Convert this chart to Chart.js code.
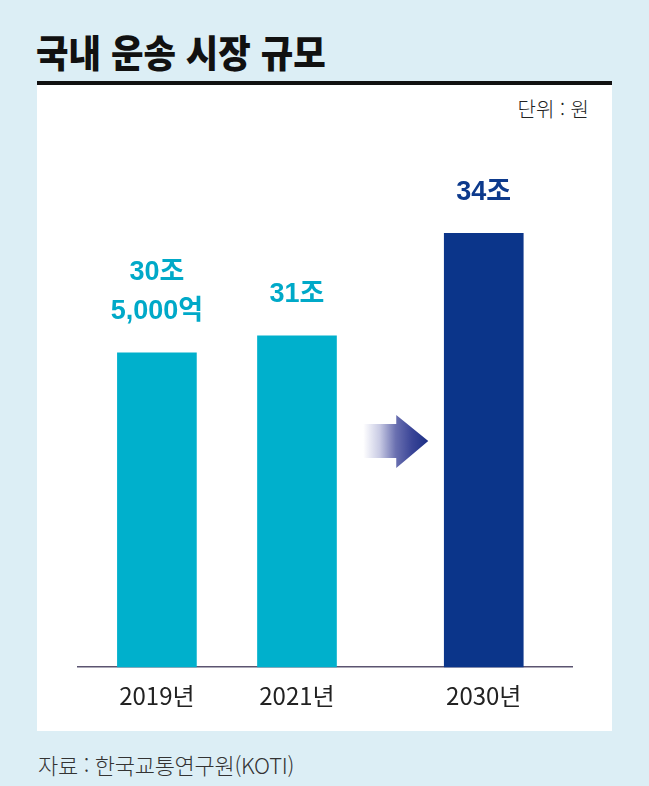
<!DOCTYPE html>
<html lang="ko">
<head>
<meta charset="utf-8">
<script src="https://cdn.jsdelivr.net/npm/chart.js@4"></script>
<style>
  html, body { margin: 0; padding: 0; }
  body { width: 649px; height: 786px; background: #dceef5; position: relative; overflow: hidden;
         font-family: "Noto Sans CJK KR", "Noto Sans", sans-serif; }
  #title { position: absolute; left: 36px; top: 32px; font-size: 38px; font-weight: 900; color: #111;
           line-height: 1; white-space: nowrap; transform: scaleX(0.93); transform-origin: left top; }
  #rule { position: absolute; left: 37px; top: 81px; width: 575px; height: 4px; background: #111; }
  #panel { position: absolute; left: 37px; top: 85px; width: 575px; height: 646px; background: #fff; }
  #unit { position: absolute; right: 60px; top: 99px; font-size: 20px; color: #222; line-height: 1; font-weight: 300; }
  #source { position: absolute; left: 38px; top: 753px; font-size: 22px; color: #333; line-height: 1;
            font-weight: 300; white-space: nowrap; letter-spacing: -0.3px; }
  #wrap { position: absolute; left: 37px; top: 84px; width: 575px; height: 647px; }
</style>
</head>
<body>
<div id="title">국내 운송 시장 규모</div>
<div id="rule"></div>
<div id="panel"></div>
<div id="unit">단위 : 원</div>
<div id="wrap"><canvas id="c" width="575" height="647"></canvas></div>
<div id="source">자료 : 한국교통연구원(KOTI)</div>
<script>
// ---- data ----
const categories = ['2019년', '2021년', '2030년'];
const values = [30.5, 31, 34];               // 조 원
const valueLabels = [['30조', '5,000억'], ['31조'], ['34조']];
const barColors = ['#00b0cc', '#00b0cc', '#0b358a'];
const labelColors = ['#00a9c8', '#00a9c8', '#0d3a8c'];

// layout: horizontal slot of each category (2030 set apart by the arrow)
const slotIndex = [0, 3, 7];

const points = values.map((v, i) => ({ x: slotIndex[i], y: v }));

const valueLabelPlugin = {
  id: 'valueLabels',
  afterDatasetsDraw(chart) {
    const ctx = chart.ctx;
    const meta = chart.getDatasetMeta(0);
    ctx.save();
    ctx.textAlign = 'center';
    ctx.textBaseline = 'middle';
    ctx.font = 'bold 27px "Liberation Sans", "Noto Sans CJK KR", sans-serif';
    meta.data.forEach((bar, i) => {
      const lines = valueLabels[i];
      ctx.fillStyle = labelColors[i];
      const lastY = bar.y - 41;
      lines.forEach((t, j) => {
        const y = lastY - (lines.length - 1 - j) * 39;
        ctx.fillText(t, bar.x, y);
      });
    });
    ctx.restore();
  }
};

const arrowPlugin = {
  id: 'arrow',
  afterDatasetsDraw(chart) {
    const ctx = chart.ctx;
    const xs = chart.scales.x;
    const tip = xs.getPixelForValue(slotIndex[2]) - 39.5 - 16;
    const cy = 357;
    const left = tip - 65, headBase = tip - 32;
    const g = ctx.createLinearGradient(left, 0, tip, 0);
    g.addColorStop(0, 'rgba(255,255,255,1)');
    g.addColorStop(0.25, '#c9cbe4');
    g.addColorStop(0.5, '#6a70b0');
    g.addColorStop(0.75, '#3a4597');
    g.addColorStop(1, '#1c2f85');
    ctx.save();
    ctx.fillStyle = g;
    ctx.beginPath();
    ctx.moveTo(left, cy - 17);
    ctx.lineTo(headBase, cy - 17);
    ctx.lineTo(headBase, cy - 26);
    ctx.lineTo(tip, cy);
    ctx.lineTo(headBase, cy + 27);
    ctx.lineTo(headBase, cy + 17);
    ctx.lineTo(left, cy + 17);
    ctx.closePath();
    ctx.fill();
    ctx.restore();
  }
};

new Chart(document.getElementById('c'), {
  type: 'bar',
  data: {
    datasets: [{
      data: points,
      backgroundColor: barColors,
      borderWidth: 0,
      barThickness: 79
    }]
  },
  options: {
    responsive: false,
    animation: false,
    events: [],
    layout: { padding: { left: 41, right: 40, top: 100, bottom: 7 } },
    plugins: { legend: { display: false }, tooltip: { enabled: false } },
    scales: {
      x: {
        type: 'linear',
        min: -1.69,
        max: 8.89,
        offset: false,
        grid: { display: false, drawTicks: false },
        border: { display: true, color: '#5b5470', width: 1.5 },
        afterBuildTicks(axis) { axis.ticks = slotIndex.map(v => ({ value: v })); },
        ticks: {
          autoSkip: false,
          maxRotation: 0,
          padding: 14,
          color: '#222',
          font: { family: '"Liberation Sans Narrow", "Noto Sans CJK KR", sans-serif', size: 24 },
          callback: (v) => categories[slotIndex.indexOf(v)]
        }
      },
      y: {
        display: false,
        min: 21.3,
        max: 35.44
      }
    }
  },
  plugins: [valueLabelPlugin, arrowPlugin]
});
</script>
</body>
</html>
